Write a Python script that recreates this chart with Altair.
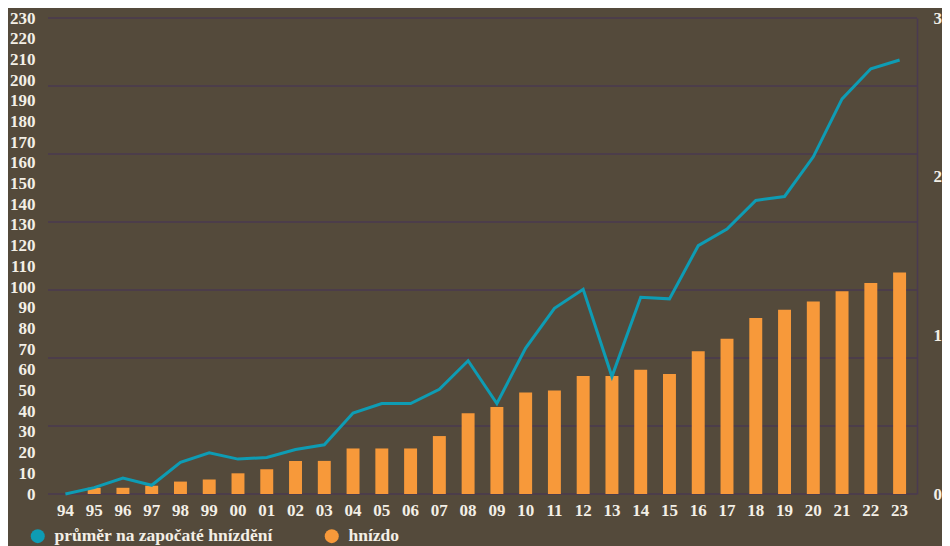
import altair as alt
import pandas as pd

years = ["94", "95", "96", "97", "98", "99", "00", "01", "02", "03",
         "04", "05", "06", "07", "08", "09", "10", "11", "12", "13",
         "14", "15", "16", "17", "18", "19", "20", "21", "22", "23"]
nests = [0, 3, 3, 4, 6, 7, 10, 12, 16, 16,
         22, 22, 22, 28, 39, 42, 49, 50, 57, 57,
         60, 58, 69, 75, 85, 89, 93, 98, 102, 107]
average = [0.0, 0.04, 0.10, 0.055, 0.20, 0.26, 0.22, 0.23, 0.28, 0.31,
           0.51, 0.57, 0.57, 0.66, 0.84, 0.57, 0.92, 1.17, 1.29, 0.74,
           1.24, 1.23, 1.565, 1.67, 1.85, 1.875, 2.125, 2.49, 2.68, 2.735]
grid_values = [0, 32.86, 65.71, 98.57, 131.43, 164.29, 197.14, 230]

series_avg = "průměr na započaté hnízdění"
series_nest = "hnízdo"

BG = "#544a3b"
GRID = "#4a3a50"
TXT = "#f3efe6"
ORANGE = "#f7993a"
TEAL = "#0e9cb4"
FONT = "Liberation Serif"

df = pd.DataFrame({"rok": years, "hnizdo": nests, "prumer": average})
df["s_nest"] = series_nest
df["s_avg"] = series_avg
grid_df = pd.DataFrame({"g": grid_values})

color_scale = alt.Scale(domain=[series_avg, series_nest], range=[TEAL, ORANGE])

x_enc = alt.X("rok:N", sort=years, title=None,
              scale=alt.Scale(paddingInner=0.55, paddingOuter=0.38),
              axis=alt.Axis(labelAngle=0, domain=False, ticks=False, labelPadding=8,
                            labelFontSize=17, labelFont=FONT, labelFontWeight="bold",
                            labelColor=TXT))

grid = alt.Chart(grid_df).mark_rule(color=GRID, strokeWidth=1.5).encode(
    y=alt.Y("g:Q", scale=alt.Scale(domain=[0, 230], nice=False), axis=None)
)

bars = alt.Chart(df).mark_bar(opacity=1).encode(
    x=x_enc,
    y=alt.Y("hnizdo:Q", title=None,
            scale=alt.Scale(domain=[0, 230], nice=False),
            axis=alt.Axis(orient="left", values=list(range(0, 231, 10)), grid=False,
                          domain=False, ticks=False, labelPadding=13,
                          labelFontSize=17, labelFont=FONT, labelFontWeight="bold",
                          labelColor=TXT)),
    color=alt.Color("s_nest:N", scale=color_scale, title=None,
                    legend=alt.Legend(orient="none", direction="horizontal",
                                      legendX=-19, legendY=509,
                                      symbolType="circle", symbolSize=196,
                                      symbolStrokeWidth=0, symbolOpacity=1,
                                      labelFontSize=17.5, labelFont=FONT,
                                      labelFontWeight="bold", labelColor=TXT,
                                      columnPadding=50, labelOffset=8,
                                      labelLimit=400)),
)

line = alt.Chart(df).mark_line(strokeWidth=3).encode(
    x=x_enc,
    y=alt.Y("prumer:Q", title=None,
            scale=alt.Scale(domain=[0, 3], nice=False),
            axis=alt.Axis(orient="right", values=[0, 1, 2, 3], grid=False,
                          domain=True, domainColor=GRID, domainWidth=1.5,
                          ticks=False, labelPadding=16, labelAlign="left",
                          labelFontSize=17, labelFont=FONT, labelFontWeight="bold",
                          labelColor=TXT)),
    color=alt.Color("s_avg:N", scale=color_scale, title=None),
)

chart = alt.layer(grid, bars, line).resolve_scale(y="independent").properties(
    width=869, height=476,
    background=BG,
    padding={"left": 40, "top": 10, "right": 25, "bottom": 52},
    autosize=alt.AutoSizeParams(type="none"),
).configure_view(stroke=None)

chart.save("out.html", embed_options={"renderer": "svg", "actions": False})
